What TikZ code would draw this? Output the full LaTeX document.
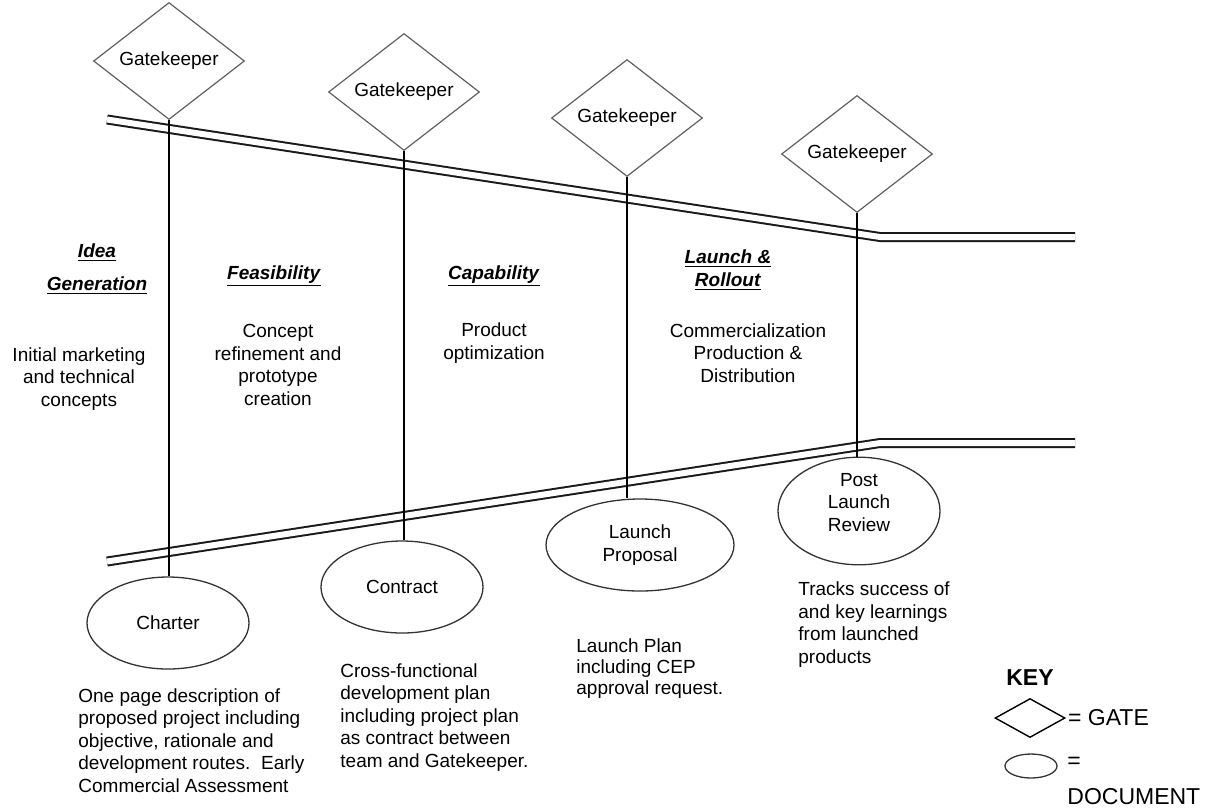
\documentclass[tikz,border=0pt]{standalone}
\usepackage{fontspec}
\setmainfont{Liberation Sans}
\usepackage{tikz}
\usetikzlibrary{shapes.geometric, positioning}
\usepackage{xcolor}
\definecolor{cEdge}{RGB}{95,95,95}
\definecolor{cRail}{RGB}{25,25,25}
\tikzset{
  basetext/.style={inner sep=0pt, font=\fontsize{9.5}{11.25}\selectfont},
  keytext/.style={inner sep=0pt, font=\fontsize{11.5}{18}\selectfont},
  gatenode/.style={diamond, draw=cEdge, line width=0.6pt, basetext,
                   minimum width=75.5pt, minimum height=50pt},
  docnode/.style={ellipse, draw=black!80, line width=0.65pt, basetext,
                  align=center, minimum width=81pt, minimum height=46pt},
  stagehead/.style={basetext, align=center, anchor=base},
  stagetext/.style={basetext, align=center, anchor=base},
  doctext/.style={basetext, align=left, anchor=base west},
  rail/.style={draw=cRail, line width=1pt, double=white, double distance=3pt},
  stem/.style={draw=black, line width=0.7pt}
}
\newcommand{\stagename}[1]{\underline{\textbf{\textit{#1}}}}

\begin{document}
\begin{tikzpicture}[x=0.5pt, y=-0.5pt]
  \useasboundingbox (0,0) rectangle (1218,810);

  % ── funnel rails ──
  \coordinate (railTL) at (107,119.5);
  \coordinate (railTK) at (880,237);
  \coordinate (railTR) at (1075,237);
  \coordinate (railBL) at (107,561.5);
  \coordinate (railBK) at (880,443);
  \coordinate (railBR) at (1075,443);
  \draw[rail] (railTL) -- (railTK) -- (railTR);
  \draw[rail] (railBL) -- (railBK) -- (railBR);

  % ── gates ──
  \node[gatenode] (gate1) at (169,61)  {Gatekeeper};
  \node[gatenode] (gate2) at (404,92)  {Gatekeeper};
  \node[gatenode] (gate3) at (627,118) {Gatekeeper};
  \node[gatenode] (gate4) at (857,154) {Gatekeeper};

  % ── documents ──
  \node[docnode] (charter)  at (168,623) {Charter};
  \node[docnode] (contract) at (402,587) {Contract};
  \node[docnode, minimum width=94pt] (lprop) at (640,545) {Launch\\Proposal};
  \node[docnode, text depth=9pt] (review) at (859,511) {Post\\Launch\\Review};

  \draw[stem] (gate1.south) -- (gate1.south |- charter.north);
  \draw[stem] (gate2.south) -- (gate2.south |- contract.north);
  \draw[stem] (gate3.south) -- (gate3.south |- lprop.north);
  \draw[stem] (gate4.south) -- (gate4.south |- review.north);

  % ── stages (base = last line) ──
  \node[stagehead] (idea) at (97,290)
      {\stagename{Idea}\\[5.25pt]\stagename{Generation}};
  \node[stagehead] (feas) at (274,279) {\stagename{Feasibility}};
  \node[stagehead] (capa) at (494,279) {\stagename{Capability}};
  \node[stagehead] (launch) at (728,286)
      {\stagename{Launch \&}\\\stagename{Rollout}};

  \node[stagetext] (ideatext) at (79,406)
      {Initial marketing\\and technical\\concepts};
  \node[stagetext] (feastext) at (278,405)
      {Concept\\refinement and\\prototype\\creation};
  \node[stagetext] (capatext) at (494,359) {Product\\optimization};
  \node[stagetext] (launchtext) at (748,382)
      {Commercialization\\Production \&\\Distribution};

  % ── document notes ──
  \node[doctext] (charternote) at (78,792)
      {One page description of\\proposed project including\\objective, rationale and\\development routes.\ \ Early\\Commercial Assessment};
  \node[doctext] (contractnote) at (340,767)
      {Cross-functional\\development plan\\including project plan\\as contract between\\team and Gatekeeper.};
  \node[doctext, font=\fontsize{9.5}{10.5}\selectfont] (lpropnote) at (576,694)
      {Launch Plan\\including CEP\\approval request.};
  \node[doctext] (reviewnote) at (798,663)
      {Tracks success of\\and key learnings\\from launched\\products};

  % ── key ──
  \node[keytext, font=\bfseries\fontsize{11.5}{14}\selectfont, anchor=base]
      (keytitle) at (1030,685) {KEY};
  \node[diamond, draw=black, line width=0.7pt, inner sep=0pt,
        minimum width=35pt, minimum height=19.5pt] (keygate) at (1030,718) {};
  \node[keytext, right=1pt of keygate] (keygatetext) {= GATE};
  \node[ellipse, draw=black!80, line width=0.65pt, inner sep=0pt,
        minimum width=26pt, minimum height=12pt] (keydoc) at (1031,766) {};
  \node[keytext, align=left, anchor=base west] (keydoctext) at (1067,804)
      {=\\DOCUMENT};

\end{tikzpicture}
\end{document}
